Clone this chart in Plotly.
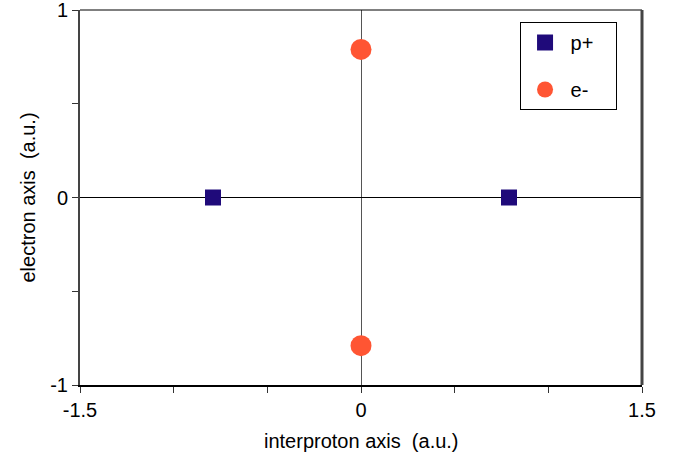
import plotly.graph_objects as go

# data
proton_x = [-0.79, 0.79]
proton_y = [0.0, 0.0]
electron_x = [0.0, 0.0]
electron_y = [0.79, -0.79]
x_tickvals = [-1.5, -1.0, -0.5, 0.0, 0.5, 1.0, 1.5]
x_ticktext = ["-1.5", "", "", "0", "", "", "1.5"]
y_tickvals = [-1.0, -0.5, 0.0, 0.5, 1.0]
y_ticktext = ["-1", "", "0", "", "1"]

FONT = "Liberation Sans, Arial, sans-serif"
FS = 20
NB = "\u00a0"

fig = go.Figure()
fig.add_trace(go.Scatter(
    x=proton_x, y=proton_y, mode="markers", name=NB + "p+" + NB * 3,
    legendgroup="p", cliponaxis=False,
    marker=dict(symbol="square", size=16, color="#1f0a7a"),
))
fig.add_trace(go.Scatter(
    x=electron_x, y=electron_y, mode="markers", name=NB + "e-" + NB * 3,
    legendgroup="e", cliponaxis=False,
    marker=dict(symbol="circle", size=21, color="#ff5533"),
))

fig.update_layout(
    width=685, height=464,
    margin=dict(l=80, r=43, t=10, b=79),
    paper_bgcolor="white", plot_bgcolor="white",
    font=dict(family=FONT, size=FS, color="black"),
    showlegend=True,
    legend=dict(
        x=0.783, y=0.968, xanchor="left", yanchor="top",
        bordercolor="black", borderwidth=1, bgcolor="white",
        tracegroupgap=18, font=dict(size=FS), indentation=4,
        itemsizing="trace",
    ),
    xaxis=dict(
        range=[-1.5, 1.5], tickvals=x_tickvals, ticktext=x_ticktext,
        ticks="outside", ticklen=6, tickcolor="#333", tickwidth=1,
        showgrid=False, zeroline=True, zerolinecolor="#555", zerolinewidth=1,
        showline=True, linecolor="black", linewidth=2,
        automargin=False, tickfont=dict(size=FS), ticklabeloverflow="allow",
    ),
    yaxis=dict(
        range=[-1, 1], tickvals=y_tickvals, ticktext=y_ticktext,
        ticks="outside", ticklen=6, tickcolor="#333", tickwidth=1,
        showgrid=False, zeroline=True, zerolinecolor="black", zerolinewidth=1,
        showline=True, linecolor="#444", linewidth=2,
        automargin=False, tickfont=dict(size=FS), ticklabeloverflow="allow",
    ),
    shapes=[
        dict(type="line", xref="paper", yref="paper", x0=0, x1=1, y0=1, y1=1,
             line=dict(color="black", width=1)),
        dict(type="line", xref="paper", yref="paper", x0=1, x1=1, y0=0, y1=1,
             line=dict(color="#444", width=3)),
    ],
    annotations=[
        dict(text="interproton axis  (a.u.)", xref="paper", yref="paper",
             x=0.5, y=0, xanchor="center", yanchor="middle",
             yshift=-56, showarrow=False, font=dict(size=FS)),
        dict(text="electron axis  (a.u.)", xref="paper", yref="paper",
             x=0, y=0.5, xanchor="center", yanchor="middle", textangle=-90,
             xshift=-53, showarrow=False, font=dict(size=FS)),
    ],
)

fig.write_html(
    "out.html",
    config={"displayModeBar": False},
    post_script="document.body.style.margin='0';document.body.style.overflow='hidden';",
)
